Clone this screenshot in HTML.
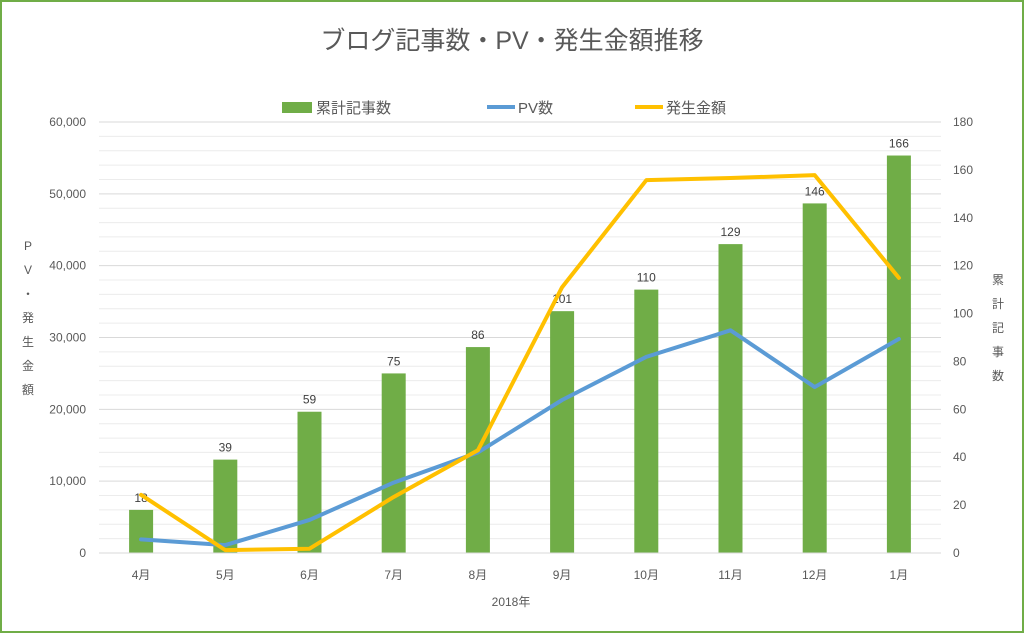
<!DOCTYPE html>
<html><head><meta charset="utf-8"><style>
body{margin:0;background:#fff}
#c{width:1024px;height:633px;position:relative;box-sizing:border-box;border:2px solid #70ad47;background:#fff;font-family:"Liberation Sans","Noto Sans CJK JP",sans-serif}
</style></head><body>
<div id="c">
<svg id="s" width="1020" height="629" style="position:absolute;left:0;top:0" font-family="Liberation Sans, Noto Sans CJK JP, sans-serif"></svg>
</div>
<script>
const categories=["4月","5月","6月","7月","8月","9月","10月","11月","12月","1月"];
const articles=[18,39,59,75,86,101,110,129,146,166];
const pv=[1900,1100,4600,9800,14000,21300,27300,31000,23100,29800];
const revenue=[8100,400,600,7800,14300,37000,51900,52200,52600,38300];
const leftTicks=[0,10000,20000,30000,40000,50000,60000];
const rightTicks=[0,20,40,60,80,100,120,140,160,180];
const NS="http://www.w3.org/2000/svg";
const s=document.getElementById('s');
const ox=-2,oy=-2;
const X0=99+ox,X1=941+ox,Y0=553+oy,Y1=122+oy;
const bw=(X1-X0)/categories.length;
const xc=i=>X0+bw*(i+0.5);
const yL=v=>Y0-(v/60000)*(Y0-Y1);
const yR=v=>Y0-(v/180)*(Y0-Y1);
function el(t,a,p){const e=document.createElementNS(NS,t);for(const k in a)e.setAttribute(k,a[k]);(p||s).appendChild(e);return e;}
function tx(x,y,str,a,name){const e=el('text',Object.assign({x:x,y:y,fill:'#595959','font-size':12},a));e.textContent=str;


return e;}
// gridlines
for(let v=0;v<=60000;v+=2000){
 const g=el('line',{x1:X0,x2:X1,y1:yL(v),y2:yL(v),stroke:v%10000===0?'#d9d9d9':'#ececec','stroke-width':1});
 
 
}
leftTicks.forEach(v=>tx(X0-13,yL(v)+4,v.toLocaleString('en-US'),{'text-anchor':'end'},'left-tick-label'));
rightTicks.forEach(v=>tx(X1+12,yR(v)+4,String(v),{},'right-tick-label'));
// bars
articles.forEach((v,i)=>{
 const r=el('rect',{x:xc(i)-12,y:yR(v),width:24,height:Y0-yR(v),fill:'#70ad47'});
 
 
 tx(xc(i),yR(v)-8,String(v),{'text-anchor':'middle','font-size':12,fill:'#404040'},'bar-value-label');
});
const ax=el('line',{x1:X0,x2:X1,y1:Y0,y2:Y0,stroke:'#d9d9d9'});


categories.forEach((c,i)=>tx(xc(i),Y0+26,c,{'text-anchor':'middle'},'x-tick-label'));
function line(arr,color,name){
 const p=el('polyline',{points:arr.map((v,i)=>xc(i)+','+yL(v)).join(' '),fill:'none',stroke:color,'stroke-width':4,'stroke-linejoin':'round','stroke-linecap':'round'});
 
 
}
line(pv,'#5b9bd5','pv-line');
line(revenue,'#ffc000','revenue-line');
// title
tx(510,47,'ブログ記事数・PV・発生金額推移',{'text-anchor':'middle','font-size':25,fill:'#595959'},'chart-title');
tx(509,604,'2018年',{'text-anchor':'middle','font-size':12},'x-axis-title');
// legend
const lr=el('rect',{x:280,y:100,width:30,height:11,fill:'#70ad47'});
tx(314,111,'累計記事数',{'font-size':15},'legend-entry-articles');
const l2=el('line',{x1:485,x2:513,y1:105,y2:105,stroke:'#5b9bd5','stroke-width':4});
tx(516,111,'PV数',{'font-size':15},'legend-entry-pv');
const l3=el('line',{x1:633,x2:661,y1:105,y2:105,stroke:'#ffc000','stroke-width':4});
tx(664,111,'発生金額',{'font-size':15},'legend-entry-revenue');
// axis titles vertical
['P','V','・','発','生','金','額'].forEach((c,i)=>tx(26,248+i*24,c,{'text-anchor':'middle','font-size':12},'left-axis-title'));
['累','計','記','事','数'].forEach((c,i)=>tx(996,282+i*24,c,{'text-anchor':'middle','font-size':12},'right-axis-title'));
</script>
</body></html>
